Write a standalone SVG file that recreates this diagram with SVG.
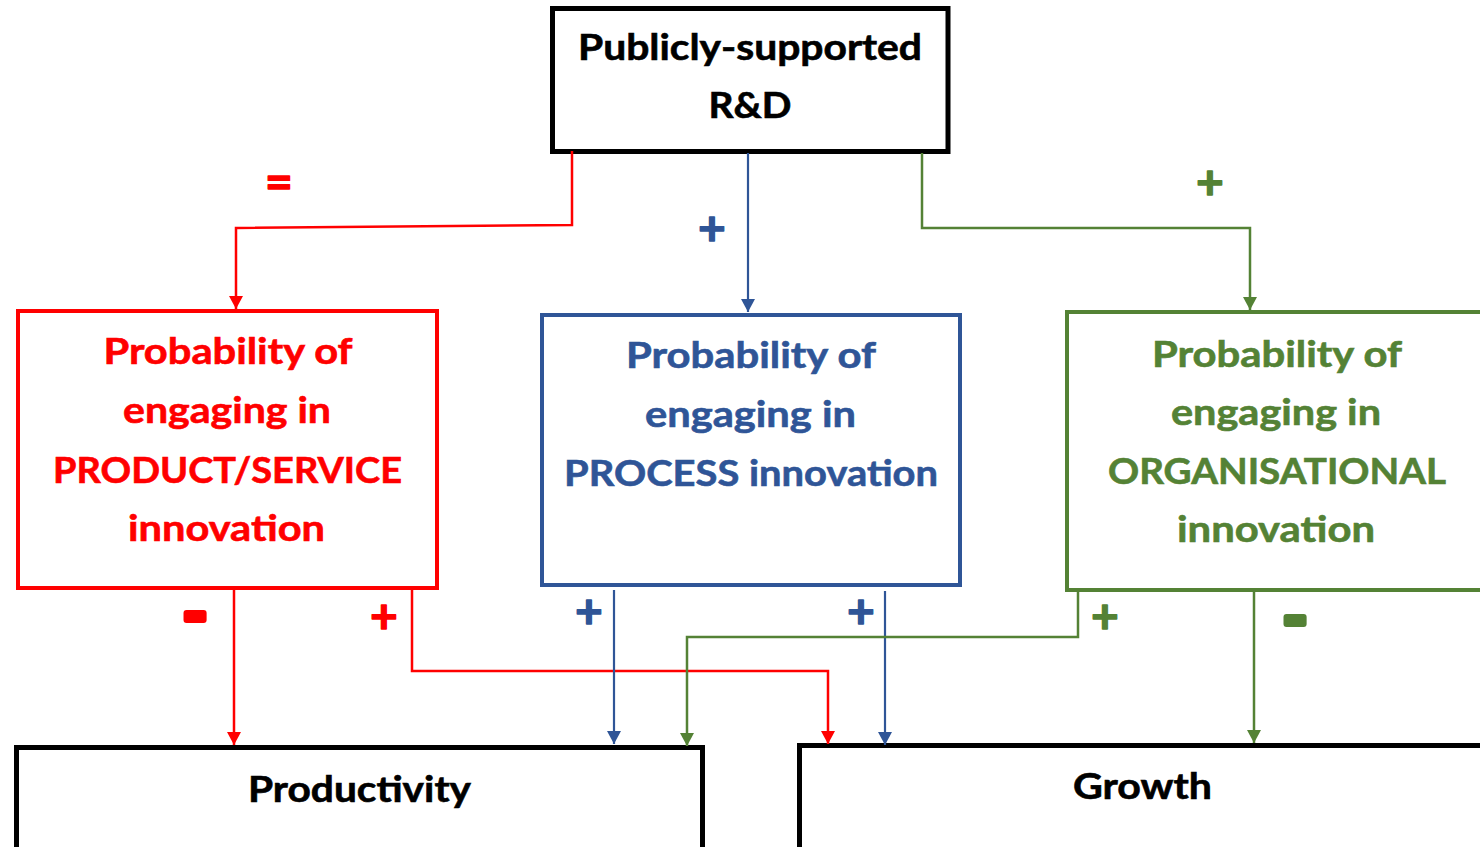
<svg xmlns="http://www.w3.org/2000/svg" width="1480" height="847" viewBox="0 0 1480 847">
  <style>
    .lbl { font-family: Lato, "Open Sans", "Liberation Sans", sans-serif; font-weight: 700; font-size: 36px; text-anchor: middle; stroke-width: 0.6; }
    .sign { font-family: Lato, "Open Sans", "Liberation Sans", sans-serif; font-weight: 700; text-anchor: middle; font-size: 48px; stroke-width: 1.4; stroke-linejoin: round; }
    .red { fill: #FF0000; stroke: #FF0000; }
    .blue { fill: #2F5597; stroke: #2F5597; }
    .green { fill: #548235; stroke: #548235; }
    .black { fill: #000000; stroke: #000000; }
    .box-black { fill: #FFFFFF; stroke: #000000; stroke-width: 5; }
    .box-red { fill: #FFFFFF; stroke: #FF0000; stroke-width: 4; }
    .box-blue { fill: #FFFFFF; stroke: #2F5597; stroke-width: 4; }
    .box-green { fill: #FFFFFF; stroke: #548235; stroke-width: 4; }
    .ln { fill: none; stroke-linejoin: miter; }
    .ln-red { stroke: #FF0000; stroke-width: 2.5; }
    .ln-blue { stroke: #2F5597; stroke-width: 2.2; }
    .ln-green { stroke: #548235; stroke-width: 2.5; }
    .minus { font-size: 66px; stroke-width: 6; }
  </style>
  <defs>
    <marker id="arrow-red" markerUnits="userSpaceOnUse" markerWidth="14" markerHeight="14" refX="13" refY="7" orient="auto">
      <path d="M0,0 L13,7 L0,14 Z" fill="#FF0000"/>
    </marker>
    <marker id="arrow-blue" markerUnits="userSpaceOnUse" markerWidth="14" markerHeight="14" refX="13" refY="7" orient="auto">
      <path d="M0,0 L13,7 L0,14 Z" fill="#2F5597"/>
    </marker>
    <marker id="arrow-green" markerUnits="userSpaceOnUse" markerWidth="14" markerHeight="14" refX="13" refY="7" orient="auto">
      <path d="M0,0 L13,7 L0,14 Z" fill="#548235"/>
    </marker>
  </defs>

  <rect width="1480" height="847" fill="#FFFFFF"/>

  <!-- Source node -->
  <g id="node-rd">
    <rect class="box-black" x="552.5" y="8.5" width="395.5" height="143"/>
    <text class="lbl black" x="750" y="60" textLength="344" lengthAdjust="spacingAndGlyphs">Publicly-supported</text>
    <text class="lbl black" x="750" y="118" textLength="83" lengthAdjust="spacingAndGlyphs">R&amp;D</text>
  </g>

  <!-- Innovation nodes -->
  <g id="node-product">
    <rect class="box-red" x="18" y="311" width="419" height="277"/>
    <text class="lbl red" x="228" y="364" textLength="249" lengthAdjust="spacingAndGlyphs">Probability of</text>
    <text class="lbl red" x="227" y="423" textLength="208" lengthAdjust="spacingAndGlyphs">engaging in</text>
    <text class="lbl red" x="227.5" y="483" textLength="349" lengthAdjust="spacingAndGlyphs">PRODUCT/SERVICE</text>
    <text class="lbl red" x="226.5" y="541" textLength="197" lengthAdjust="spacingAndGlyphs">innovation</text>
  </g>

  <g id="node-process">
    <rect class="box-blue" x="542" y="315" width="418" height="270"/>
    <text class="lbl blue" x="751" y="368" textLength="250" lengthAdjust="spacingAndGlyphs">Probability of</text>
    <text class="lbl blue" x="750.5" y="427" textLength="211" lengthAdjust="spacingAndGlyphs">engaging in</text>
    <text class="lbl blue" x="751" y="486" textLength="374" lengthAdjust="spacingAndGlyphs">PROCESS innovation</text>
  </g>

  <g id="node-organisational">
    <rect class="box-green" x="1067" y="312" width="430" height="278"/>
    <text class="lbl green" x="1277" y="367" textLength="250" lengthAdjust="spacingAndGlyphs">Probability of</text>
    <text class="lbl green" x="1276" y="425" textLength="210" lengthAdjust="spacingAndGlyphs">engaging in</text>
    <text class="lbl green" x="1277" y="484" textLength="338" lengthAdjust="spacingAndGlyphs">ORGANISATIONAL</text>
    <text class="lbl green" x="1276" y="542" textLength="198" lengthAdjust="spacingAndGlyphs">innovation</text>
  </g>

  <!-- Outcome nodes -->
  <g id="node-productivity">
    <rect class="box-black" x="16.5" y="747.5" width="686" height="120"/>
    <text class="lbl black" x="359.5" y="802" textLength="223" lengthAdjust="spacingAndGlyphs">Productivity</text>
  </g>

  <g id="node-growth">
    <rect class="box-black" x="799.5" y="745.5" width="700" height="120"/>
    <text class="lbl black" x="1142.5" y="799" textLength="139" lengthAdjust="spacingAndGlyphs">Growth</text>
  </g>

  <!-- Connectors -->
  <g id="connectors">
    <path class="ln ln-red" d="M572,151 V225 L236,228 V309" marker-end="url(#arrow-red)"/>
    <path class="ln ln-blue" d="M748,153 V312" marker-end="url(#arrow-blue)"/>
    <path class="ln ln-green" d="M922,153 V228 H1250 V310" marker-end="url(#arrow-green)"/>

    <path class="ln ln-red" d="M234,590 V745" marker-end="url(#arrow-red)"/>
    <path class="ln ln-red" d="M412,590 V671 H828 V744" marker-end="url(#arrow-red)"/>
    <path class="ln ln-blue" d="M614,590 V744" marker-end="url(#arrow-blue)"/>
    <path class="ln ln-blue" d="M885,591 V745" marker-end="url(#arrow-blue)"/>
    <path class="ln ln-green" d="M1078,592 V637 H687 V746" marker-end="url(#arrow-green)"/>
    <path class="ln ln-green" d="M1254,592 V743" marker-end="url(#arrow-green)"/>

    <!-- Effect signs -->
    <text class="sign red" x="279" y="199">=</text>
    <text class="sign blue" x="712" y="245">+</text>
    <text class="sign green" x="1210" y="199">+</text>

    <text class="sign red minus" x="195" y="637">-</text>
    <text class="sign red" x="384" y="633">+</text>
    <text class="sign blue" x="589" y="628">+</text>
    <text class="sign blue" x="861" y="628">+</text>
    <text class="sign green" x="1105" y="633">+</text>
    <text class="sign green minus" x="1295" y="641">-</text>
  </g>
</svg>
